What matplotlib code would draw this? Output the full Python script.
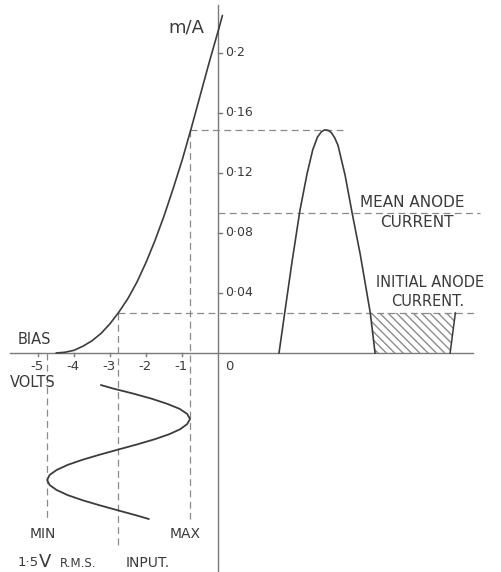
import matplotlib.pyplot as plt

plt.rcParams['font.family'] = ['DejaVu Sans']
plt.rcParams['hatch.linewidth'] = 1.0

# anode current characteristic: grid volts vs anode current (mA)
grid_v = [-4.5, -4.25, -4.0, -3.75, -3.5, -3.25, -3.0, -2.75, -2.5, -2.25,
          -2.0, -1.75, -1.5, -1.25, -1.0, -0.75, -0.5, -0.25, 0.0, 0.12]
anode_ma = [0.0, 0.0005, 0.0018, 0.0046, 0.0082, 0.0131, 0.0196, 0.0275,
            0.0365, 0.0475, 0.0605, 0.0752, 0.0915, 0.1095, 0.1285, 0.1495,
            0.1715, 0.1935, 0.2145, 0.225]

# working point and signal swing
bias_v = -2.78
min_v = -4.75
max_v = -0.78
initial_ma = 0.0267
mean_ma = 0.093
peak_ma = 0.1487

# input signal (grid volts) against phase in degrees, drawn downwards
in_phase = [-100, -90, -75, -60, -45, -30, -15, 0, 15, 30, 45, 60, 75, 90,
            105, 120, 135, 150, 165, 180, 195, 210, 225, 240, 255, 270, 285, 295]
in_volts = [-3.25, -2.92, -2.36, -1.85, -1.42, -1.07, -0.86, -0.78, -0.86,
            -1.05, -1.36, -1.77, -2.25, -2.77, -3.28, -3.76, -4.17, -4.48,
            -4.68, -4.75, -4.68, -4.48, -4.17, -3.76, -3.28, -2.77, -2.25, -1.93]

# output anode current pulse against phase in degrees
out_phase = [-99, -86, -72, -55, -40, -28, -18, -10, -4, 0, 6, 12, 18, 25,
             40, 55, 72, 85, 93, 103]
out_ma = [0.0, 0.029, 0.06, 0.095, 0.1195, 0.1355, 0.144, 0.1474, 0.1486,
          0.1487, 0.1482, 0.1465, 0.1435, 0.1385, 0.1185, 0.093, 0.0655,
          0.0415, 0.0267, 0.0]
next_rise_phase = [261, 272]

y_ticks = [0.04, 0.08, 0.12, 0.16, 0.2]
y_labels = ['0·04', '0·08', '0·12', '0·16', '0·2']
x_ticks = [-5, -4, -3, -2, -1]
x_labels = ['-5', '-4', '-3', '-2', '-1']

line_c = '#3c3c3c'
axis_c = '#7a7a7a'
dash_c = '#8a8a8a'
text_c = '#3a3a3a'
dash = (0, (5.5, 3.5))

fig = plt.figure(figsize=(5.01, 5.72), dpi=100)
ax = fig.add_axes([0, 0, 1, 1])
ax.set_xlim(-6.06, 7.86)
ax.set_ylim(-0.146, 0.2353)
ax.axis('off')

# second set of scales for the two waveforms
ax_in = ax.twinx()
ax_in.set_ylim(451.5, -1236.4)
ax_in.axis('off')
ax_out = ax.twiny()
ax_out.set_xlim(-686, 368)
ax_out.axis('off')

# axes
ax.plot([0, 0], [-0.146, 0.232], color=axis_c, lw=1.0)
ax.plot([-5.78, 7.08], [0, 0], color=axis_c, lw=1.0)
for t, lab in zip(y_ticks, y_labels):
    ax.plot([0, 0.12], [t, t], color=axis_c, lw=1.0)
    ax.text(0.2, t, lab, fontsize=9, color=text_c, ha='left', va='center')
for t, lab in zip(x_ticks, x_labels):
    ax.plot([t, t], [0, -0.002], color=axis_c, lw=1.0)
    ax.text(t + 0.15, -0.0093, lab, fontsize=9.5, color=text_c,
            ha='right', va='center')
ax.text(0.3, -0.0093, '0', fontsize=9.5, color=text_c, ha='center', va='center')

# projection lines
ax.plot([min_v, min_v], [0, -0.111], color=dash_c, lw=0.9, ls=dash)
ax.plot([bias_v, bias_v], [initial_ma, -0.129], color=dash_c, lw=0.9, ls=dash)
ax.plot([max_v, max_v], [peak_ma, -0.111], color=dash_c, lw=0.9, ls=dash)
ax.plot([max_v, 3.47], [peak_ma, peak_ma], color=dash_c, lw=0.9, ls=dash)
ax.plot([0, 7.28], [mean_ma, mean_ma], color=dash_c, lw=0.9, ls=dash)
ax.plot([bias_v, 7.22], [initial_ma, initial_ma], color=dash_c, lw=0.9, ls=dash)

# characteristic curve
ax.plot(grid_v, anode_ma, color=line_c, lw=1.2, solid_capstyle='round',
        solid_joinstyle='round')

# input waveform
ax_in.plot(in_volts, in_phase, color=line_c, lw=1.3, solid_joinstyle='round')

# output waveform and the shaded region below the initial current
ax_out.plot(out_phase, out_ma, color=line_c, lw=1.2, solid_joinstyle='round')
ax_out.fill([out_phase[-2], next_rise_phase[1], next_rise_phase[0], out_phase[-1]],
            [initial_ma, initial_ma, 0, 0],
            facecolor='none', edgecolor='#8c8c8c', hatch='\\\\\\\\', lw=0)
ax_out.plot([next_rise_phase[1], next_rise_phase[0]], [initial_ma, 0],
            color=line_c, lw=1.1)

# lettering
ax.text(-1.39, 0.2173, 'm/A', fontsize=13, color=text_c, ha='left', va='center')
ax.text(-5.58, 0.0087, 'BIAS', fontsize=10.5, color=text_c, ha='left', va='center')
ax.text(-5.78, -0.02, 'VOLTS', fontsize=10.5, color=text_c, ha='left', va='center')
ax.text(3.94, 0.1, 'MEAN ANODE', fontsize=11, color=text_c, ha='left', va='center')
ax.text(5.53, 0.0867, 'CURRENT', fontsize=11, color=text_c, ha='center', va='center')
ax.text(5.89, 0.0467, 'INITIAL ANODE', fontsize=10.5, color=text_c,
        ha='center', va='center')
ax.text(5.83, 0.034, 'CURRENT.', fontsize=10.5, color=text_c, ha='center', va='center')
ax.text(-4.86, -0.1207, 'MIN', fontsize=10, color=text_c, ha='center', va='center')
ax.text(-0.92, -0.1207, 'MAX', fontsize=10, color=text_c, ha='center', va='center')
ax.text(-5.58, -0.14, '1·5', fontsize=9.5, color=text_c, ha='left', va='center')
ax.text(-4.97, -0.1395, 'V', fontsize=13, color=text_c, ha='left', va='center')
ax.text(-4.39, -0.1405, 'R.M.S.', fontsize=8.5, color=text_c, ha='left', va='center')
ax.text(-2.58, -0.14, 'INPUT.', fontsize=10, color=text_c, ha='left', va='center')

fig.savefig('out.png', dpi=100, facecolor='white')
